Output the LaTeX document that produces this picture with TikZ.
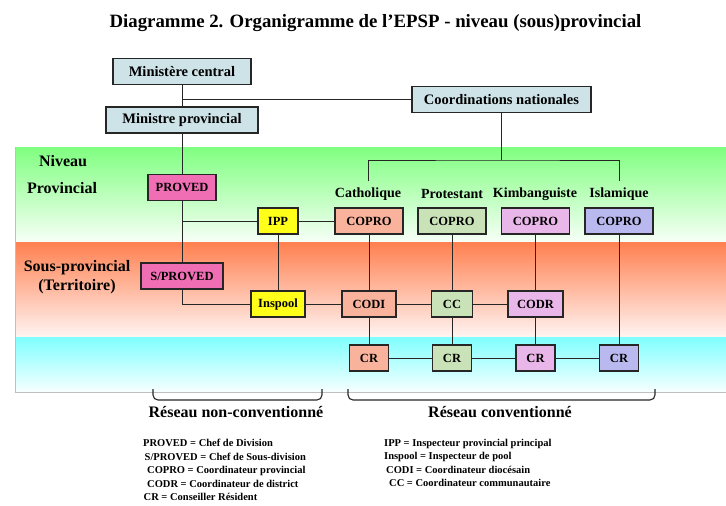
\documentclass[tikz,border=0pt]{standalone}
\usepackage{fontspec}
\setmainfont{Liberation Serif}
\usetikzlibrary{calc}
\definecolor{minblue}{HTML}{CDE3E8}
\definecolor{provpink}{HTML}{F06EB4}
\definecolor{inspyellow}{HTML}{FFFF1A}
\definecolor{cathsalmon}{HTML}{F9B29C}
\definecolor{protgreen}{HTML}{C9E2B8}
\definecolor{kimbviolet}{HTML}{E8B6E8}
\definecolor{islblue}{HTML}{B9B9F0}
\tikzset{
  box/.style={draw=black!85, line width=1.2pt, inner sep=0pt, minimum height=26pt,
    font=\bfseries\fontsize{12.5}{14}\selectfont},
  bigbox/.style={box, fill=minblue, font=\bfseries\fontsize{14.5}{16}\selectfont},
  relig/.style={inner sep=0pt, font=\bfseries\fontsize{14}{16}\selectfont},
  level/.style={inner sep=0pt, font=\bfseries\fontsize{16}{18}\selectfont},
  link/.style={line width=1pt, black!85},
  brace/.style={line width=1.1pt, black!85, rounded corners=5pt},
}

\begin{document}
\begin{tikzpicture}[x=1pt, y=-1pt]
			%%%%% START %%%%%
			\useasboundingbox (0, 0) rectangle (726, 506);
			
			% bands of the levels
			\shade[top color=green!50, bottom color=green!3!white] (15, 147) rectangle (726, 242);
			\shade[top color={rgb,255:red,255;green,128;blue,80}, bottom color={rgb,255:red,255;green,244;blue,242}] (15, 242) rectangle (726, 337);
			\shade[top color=cyan!50, bottom color=cyan!3!white] (15, 337) rectangle (726, 392);
			\draw[black!25, line width=0.8pt] (15, 147) -- (15, 392) -- (726, 392);
			
			\node[font=\bfseries\fontsize{18.8}{22}\selectfont] (title) at (375.5, 23) {Diagramme 2. Organigramme de l'EPSP - niveau (sous)provincial};
			
			\node[level] (niveau) at (63, 161) {Niveau};
			\node[level] (prov) at (62, 188) {Provincial};
			\node[level] (sousprov) at (77, 268) {Sous-provincial};
			\node[level] (territ) at (77, 287) {(Territoire)};
			
			% top
			\node[bigbox, minimum width=138pt] (mc) at (182, 71.5) {Ministère central};
			\node[bigbox, minimum width=152pt] (mp) at (182, 120) {Ministre provincial};
			\node[bigbox, minimum width=179pt] (cn) at (501.5, 99.5) {Coordinations nationales};
			
			% non-conventionne
			\node[box, fill=provpink, minimum width=68pt] (proved) at (182, 187.5) {PROVED};
			\node[box, fill=provpink, minimum width=82pt] (sproved) at (182, 276) {S/PROVED};
			\node[box, fill=inspyellow, minimum width=40pt] (ipp) at (278, 221) {IPP};
			\node[box, fill=inspyellow, minimum width=54pt] (inspool) at (278, 304) {Inspool};
			
			% conventionne
			\node[relig] (cath) at (368, 194) {Catholique};
			\node[relig] (prot) at (452, 194) {Protestant};
			\node[relig] (kimb) at (535, 194) {Kimbanguiste};
			\node[relig] (isla) at (619, 194) {Islamique};
			
			\node[box, fill=cathsalmon, minimum width=68pt] (copro1) at (369, 221) {COPRO};
			\node[box, fill=protgreen, minimum width=68pt] (copro2) at (452, 221) {COPRO};
			\node[box, fill=kimbviolet, minimum width=68pt] (copro3) at (535.5, 221) {COPRO};
			\node[box, fill=islblue, minimum width=68pt] (copro4) at (619, 221) {COPRO};
			
			\node[box, fill=cathsalmon, minimum width=54pt] (codi) at (369, 304) {CODI};
			\node[box, fill=protgreen, minimum width=41pt] (cc) at (452, 304) {CC};
			\node[box, fill=kimbviolet, minimum width=55pt] (codr) at (535.5, 304) {CODR};
			
			\node[box, fill=cathsalmon, minimum width=39pt] (cr1) at (369, 358) {CR};
			\node[box, fill=protgreen, minimum width=39pt] (cr2) at (452, 358) {CR};
			\node[box, fill=kimbviolet, minimum width=39pt] (cr3) at (535.5, 358) {CR};
			\node[box, fill=islblue, minimum width=39pt] (cr4) at (619, 358) {CR};
			
			% links
			\draw[link] (mc) -- (mp);
			\draw[link] (cn.west) -- (cn.west -| mc.south);
			\draw[link] (mp) -- (proved);
			\draw[link] (proved) -- (sproved);
			\draw[link] (ipp.west) -- (ipp.west -| proved.south);
			\draw[link] (ipp) -- (copro1);
			\draw[link] (ipp) -- (inspool);
			\draw[link] (sproved.south) |- (inspool.west);
			\draw[link] (inspool) -- (codi);
			\draw[link] (codi) -- (cc);
			\draw[link] (cc) -- (codr);
			\draw[link] (copro1) -- (codi) -- (cr1);
			\draw[link] (copro2) -- (cc) -- (cr2);
			\draw[link] (copro3) -- (codr) -- (cr3);
			\draw[link] (copro4) -- (cr4);
			\draw[link] (cr1) -- (cr2) -- (cr3) -- (cr4);
			
			\coordinate (fork) at (cn.south |- 0, 160);
			\draw[link] (cn.south) -- (fork);
			\draw[link] ($(cath.north)+(0, -6)$) |- (fork) -| ($(isla.north)+(0, -6)$);
			
			% braces
			\draw[brace] (153, 389) -- (153, 400) -- (322, 400) -- (322, 389);
			\draw[brace] (348, 389) -- (348, 400) -- (655, 400) -- (655, 389);
			\node[level] (nonconv) at (236, 412) {Réseau non-conventionné};
			\node[level] (conv) at (500, 412) {Réseau conventionné};
			
			% legend
			\node[anchor=north west, align=left, inner sep=0pt, font=\bfseries\fontsize{10.5}{13.5}\selectfont] (legl) at (143, 439)
			  {PROVED = Chef de Division\\
			   \hspace{1.5pt}S/PROVED = Chef de Sous-division\\
			   \hspace{4pt}COPRO = Coordinateur provincial\\
			   \hspace{4pt}CODR = Coordinateur de district\\
			   \hspace{0.5pt}CR = Conseiller Résident};
			\node[anchor=north west, align=left, inner sep=0pt, font=\bfseries\fontsize{10.5}{13.5}\selectfont] (legr) at (384, 439)
			  {IPP = Inspecteur provincial principal\\
			   Inspool = Inspecteur de pool\\
			   \hspace{2pt}CODI = Coordinateur diocésain\\
			   \hspace{5pt}CC = Coordinateur communautaire};
			%%%%% END %%%%%
\end{tikzpicture}
\end{document}
